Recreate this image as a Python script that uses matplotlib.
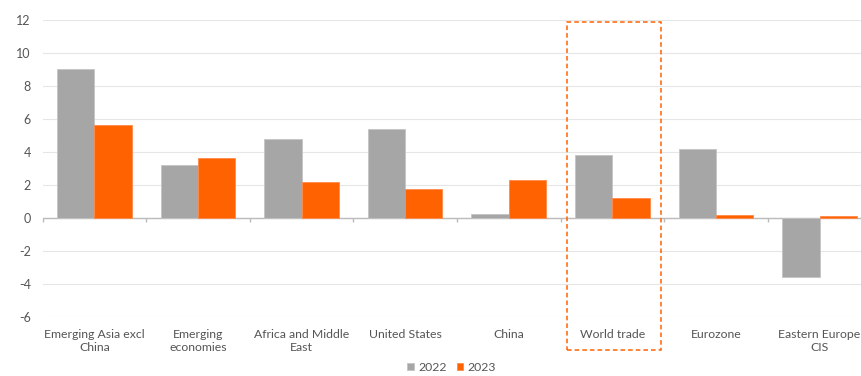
import matplotlib
matplotlib.use("Agg")
import matplotlib.pyplot as plt
from matplotlib.patches import Rectangle
import numpy as np

categories = ["Emerging Asia excl\nChina", "Emerging\neconomies", "Africa and Middle\nEast",
              "United States", "China", "World trade", "Eurozone", "Eastern Europe\nCIS"]
values_2022 = [9.0, 3.2, 4.8, 5.4, 0.25, 3.8, 4.15, -3.6]
values_2023 = [5.65, 3.65, 2.15, 1.75, 2.3, 1.2, 0.2, 0.1]
series_labels = ["2022", "2023"]
yticks = [-6, -4, -2, 0, 2, 4, 6, 8, 10, 12]
highlight = "World trade"

GREY = "#A6A6A6"
ORANGE = "#FF6200"
TEXT = "#555555"

plt.rcParams["font.family"] = ["Lato", "DejaVu Sans"]

fig = plt.figure(figsize=(8.62, 3.76), dpi=100)
ax = fig.add_axes([0.0495, 0.157, 0.9505, 0.79])

x = np.arange(len(categories))
w = 0.36
ax.bar(x - w / 2, values_2022, width=w, color=GREY, edgecolor="#C4C4C4", linewidth=0.6,
       label=series_labels[0], zorder=3)
ax.bar(x + w / 2, values_2023, width=w, color=ORANGE, edgecolor="#FF8A4A", linewidth=0.6,
       label=series_labels[1], zorder=3)

ax.set_xlim(-0.5, 7.41)
ax.set_ylim(-6, 12)
ax.set_yticks(yticks)
ax.set_yticklabels([str(t) for t in yticks])
ax.grid(axis="y", color="#E6E6E6", linewidth=0.8, zorder=0)
ax.set_axisbelow(True)
for s in ax.spines.values():
    s.set_visible(False)

# zero line with small category separators
ax.axhline(0, color="#BBBBBB", linewidth=1.0, zorder=2)
bounds = np.arange(len(categories) + 1) - 0.5
ax.vlines(bounds, -0.22, 0, color="#BBBBBB", linewidth=1.0, zorder=2, clip_on=False)

ax.set_xticks(x)
ax.set_xticklabels(categories, fontsize=8.8, color=TEXT, linespacing=1.2)
ax.tick_params(axis="x", length=0, pad=9)
ax.tick_params(axis="y", length=0, pad=8.5, labelsize=9, labelcolor=TEXT)

# dashed box around the highlighted category
i = categories.index(highlight)
ax.add_patch(Rectangle((i - 0.44, -8.0), 0.91, 19.9, fill=False, edgecolor=ORANGE,
                       linestyle=(0, (3, 2)), linewidth=1.1, clip_on=False, zorder=4))

leg = fig.legend(loc="lower center", bbox_to_anchor=(0.524, -0.02), ncol=2, frameon=False,
                 fontsize=8.8, handlelength=0.55, handleheight=0.55, handletextpad=0.35,
                 columnspacing=0.8)
for t in leg.get_texts():
    t.set_color(TEXT)

fig.savefig("out.png", dpi=100, facecolor="white")
